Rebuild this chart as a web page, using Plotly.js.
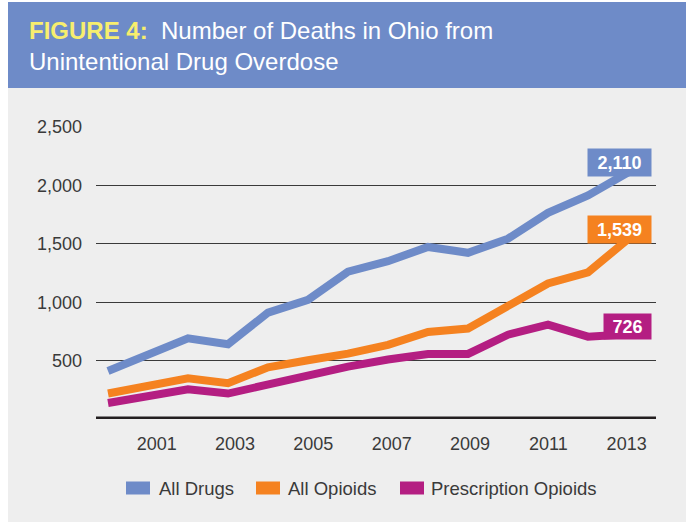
<!DOCTYPE html>
<html>
<head>
<meta charset="utf-8">
<script src="https://cdn.plot.ly/plotly-3.0.1.min.js"></script>
<style>
  html, body { margin: 0; padding: 0; background: #ffffff; }
  #chart { width: 686px; height: 522px; }
</style>
</head>
<body>
<div id="chart"></div>
<script>
// ---- data ----
const years = [2000, 2001, 2002, 2003, 2004, 2005, 2006, 2007, 2008, 2009, 2010, 2011, 2012, 2013];
const allDrugs = [411, 555, 690, 640, 910, 1020, 1261, 1351, 1473, 1423, 1544, 1765, 1914, 2110];
const allOpioids = [218, 285, 349, 306, 443, 503, 560, 635, 745, 775, 962, 1160, 1256, 1539];
const rxOpioids = [137, 196, 255, 218, 300, 377, 449, 509, 557, 557, 722, 808, 705, 726];
const seriesNames = ['All Drugs', 'All Opioids', 'Prescription Opioids'];
const xTickVals = [2001, 2003, 2005, 2007, 2009, 2011, 2013];
const xTickText = ['2001', '2003', '2005', '2007', '2009', '2011', '2013'];
const yTickVals = [500, 1000, 1500, 2000, 2500];
const yTickText = ['500', '1,000', '1,500', '2,000', '2,500'];
const endLabels = ['2,110', '1,539', '726'];

// ---- styling ----
const FONT = 'Liberation Sans, Arial, Helvetica, sans-serif';
const colors = ['#6e8bc8', '#f58220', '#b41e82'];
const W = 686, H = 522;
const L = 96, R = 656, T = 127, B = 419;  // plot area in px
const pxX = x => (x - L) / (R - L);
const pxY = y => (B - y) / (B - T);

const series = [allDrugs, allOpioids, rxOpioids];
const traces = series.map((vals, i) => ({
  type: 'scatter', mode: 'lines', x: years, y: vals, name: seriesNames[i],
  line: { color: colors[i], width: 8 }, showlegend: false, hoverinfo: 'skip'
}));
// invisible trace carrying the label axis
traces.push({ type: 'scatter', mode: 'lines', x: [], y: [], xaxis: 'x2', showlegend: false, hoverinfo: 'skip' });

const shapes = [
  // light grey page panel
  { type: 'rect', xref: 'paper', yref: 'paper', x0: pxX(8), x1: pxX(W), y0: pxY(H), y1: pxY(88),
    fillcolor: '#eeeeee', line: { width: 0 }, layer: 'below' },
  // blue header band
  { type: 'rect', xref: 'paper', yref: 'paper', x0: pxX(8), x1: pxX(W), y0: pxY(88), y1: pxY(2),
    fillcolor: '#6e8bc8', line: { width: 0 }, layer: 'below' },
  // heavy baseline at zero
  { type: 'line', xref: 'paper', yref: 'y', x0: 0, x1: 1, y0: 0, y1: 0,
    line: { color: '#231f20', width: 5 }, layer: 'above' }
];

// custom legend (rect swatches)
const legendSwatchX = [126, 256, 400];
const legendTextX = [157, 286, 429];
const legendY = 488;
const annotations = [];
seriesNames.forEach((name, i) => {
  shapes.push({ type: 'rect', xref: 'paper', yref: 'paper',
    x0: pxX(legendSwatchX[i]), x1: pxX(legendSwatchX[i] + 24),
    y0: pxY(legendY + 6.5), y1: pxY(legendY - 6.5),
    fillcolor: colors[i], line: { width: 0 } });
  annotations.push({ xref: 'paper', yref: 'paper', x: pxX(legendTextX[i]), y: pxY(legendY),
    xanchor: 'left', yanchor: 'middle', text: name, showarrow: false,
    font: { family: FONT, size: 18.5, color: '#3a3a3a' } });
});

// end-value boxes
const boxOffsets = [82, 82, 66];
const boxWidths = [59, 59, 43];
const boxHeights = [23, 23, 21];
series.forEach((vals, i) => {
  annotations.push({ xref: 'paper', yref: 'y', x: pxX(652), y: vals[vals.length - 1] + boxOffsets[i],
    xanchor: 'right', yanchor: 'middle', text: '<b>' + endLabels[i] + '</b>', showarrow: false,
    bgcolor: colors[i], borderpad: 2, width: boxWidths[i], height: boxHeights[i], align: 'center',
    font: { family: FONT, size: 18, color: '#ffffff' } });
});

const layout = {
  width: W, height: H,
  margin: { l: L, r: W - R, t: T, b: H - B, pad: 0 },
  paper_bgcolor: '#ffffff', plot_bgcolor: 'rgba(0,0,0,0)',
  font: { family: FONT, color: '#3a3a3a' },
  title: {
    text: '<span style="color:#f7ee6e"><b>FIGURE 4:</b></span>\u00a0\u00a0Number of Deaths in Ohio from<br>Unintentional Drug Overdose',
    x: 29 / W, xref: 'container', xanchor: 'left',
    y: 1 - 39 / H, yref: 'container', yanchor: 'top',
    font: { family: FONT, size: 24, color: '#ffffff' }
  },
  xaxis: {
    range: [1999.7, 2013.7], showgrid: false, zeroline: false, showline: false,
    showticklabels: false, ticks: '', fixedrange: true
  },
  xaxis2: {
    overlaying: 'x', side: 'bottom', range: [1999.45, 2013.75],
    tickmode: 'array', tickvals: xTickVals, ticktext: xTickText,
    showgrid: false, zeroline: false, showline: false, ticks: '',
    ticklabelstandoff: 12,
    tickfont: { family: FONT, size: 18, color: '#3a3a3a' }, fixedrange: true
  },
  yaxis: {
    range: [0, 2500], tickmode: 'array', tickvals: yTickVals, ticktext: yTickText,
    showgrid: true, gridcolor: '#3a3a3a', gridwidth: 1.2, zeroline: false, showline: false,
    ticks: '', ticklabelstandoff: 13,
    tickfont: { family: FONT, size: 18, color: '#3a3a3a' }, fixedrange: true
  },
  shapes: shapes,
  annotations: annotations,
  showlegend: false
};

Plotly.newPlot('chart', traces, layout, { staticPlot: true, displayModeBar: false });
</script>
</body>
</html>
